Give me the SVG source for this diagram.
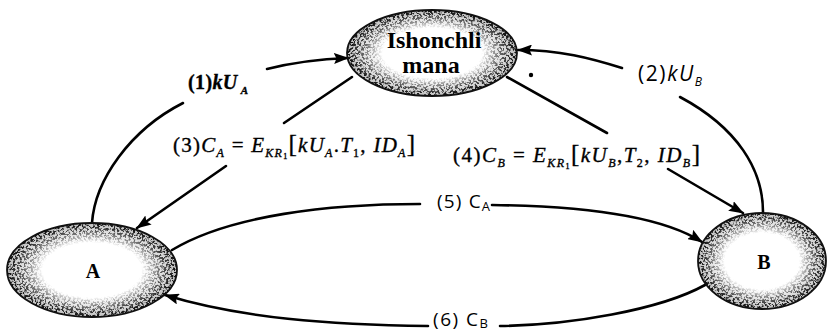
<svg xmlns="http://www.w3.org/2000/svg" width="827" height="332" viewBox="0 0 827 332">
<style>
.edge{fill:none;stroke:#000;stroke-width:2.6;stroke-linecap:round}
.base{fill:#fff;stroke:none}
.tint{fill:url(#tint);stroke:none}
.spk{fill:url(#ring);stroke:none;filter:url(#speckle)}
.rim{fill:none;stroke:#111;stroke-width:1.8}
.nlab{font-family:"Liberation Serif",serif;font-weight:bold;fill:#000;text-anchor:middle}
.ser{font-family:"Liberation Serif","Times New Roman",serif;fill:#000;stroke:#000;stroke-width:0.35}
.sans{font-family:"Open Sans","Noto Sans",sans-serif;fill:#000}
.it{font-style:italic}
</style>
<defs>
<marker id="ah" markerWidth="15" markerHeight="11" refX="14" refY="5.5" orient="auto" markerUnits="userSpaceOnUse">
<path d="M0,0 L15,5.5 L0,11 L2.5,5.5 z" fill="#000"/>
</marker>
<radialGradient id="ring" cx="0.5" cy="0.5" r="0.5">
<stop offset="0.58" stop-color="#000" stop-opacity="0"/>
<stop offset="0.85" stop-color="#000" stop-opacity="0.65"/>
<stop offset="1" stop-color="#000" stop-opacity="0.95"/>
</radialGradient>
<radialGradient id="tint" cx="0.5" cy="0.5" r="0.5">
<stop offset="0.6" stop-color="#999" stop-opacity="0"/>
<stop offset="0.85" stop-color="#999" stop-opacity="0.35"/>
<stop offset="1" stop-color="#777" stop-opacity="0.5"/>
</radialGradient>
<filter id="speckle" x="0" y="0" width="1" height="1" color-interpolation-filters="sRGB">
<feTurbulence type="fractalNoise" baseFrequency="0.45" numOctaves="3" seed="7" result="n"/>
<feColorMatrix in="n" type="matrix" values="0 0 0 0 0  0 0 0 0 0  0 0 0 0 0  7 0 0 0 -3.2" result="m"/>
<feComposite in="SourceGraphic" in2="m" operator="arithmetic" k1="1" k2="0" k3="0" k4="0"/>
</filter>
</defs>

<g id="connectors">
<path class="edge" d="M92,223 C95,180 130,130 183,103"/>
<path class="edge" d="M267,69 C295,62 320,59 348,58" marker-end="url(#ah)"/>
<path class="edge" d="M763,212 C763,170 738,128 680,97"/>
<path class="edge" d="M622,68 C590,58 560,50 518,50" marker-end="url(#ah)"/>
<path class="edge" d="M352,77 L284,123"/>
<path class="edge" d="M226,166 L137,228" marker-end="url(#ah)"/>
<path class="edge" d="M507,77 L607,133"/>
<path class="edge" d="M668,169 L743,213" marker-end="url(#ah)"/>
<path class="edge" d="M172,250 C230,215 330,204 420,204"/>
<path class="edge" d="M492,205 C580,206 660,215 702,242" marker-end="url(#ah)"/>
<path class="edge" d="M705,285 C660,310 570,325 500,326"/>
<path class="edge" d="M428,326 C330,325 240,318 165,295" marker-end="url(#ah)"/>
<circle cx="531" cy="75" r="2.2" fill="#000"/>
</g>

<g id="labels">
<text class="ser" x="188" y="89" font-size="20" font-weight="bold" textLength="60" lengthAdjust="spacing">(1)<tspan class="it">kU</tspan><tspan class="it" font-size="11" dx="3" dy="5">A</tspan></text>
<text class="sans" x="638" y="81" font-size="21" textLength="64" lengthAdjust="spacing">(2)<tspan class="it">kU</tspan><tspan class="it" font-size="12" dy="5">B</tspan></text>
<text class="ser" x="173" y="152" font-size="21" textLength="242" lengthAdjust="spacing">(3)<tspan class="it">C</tspan><tspan class="it" font-size="12" dy="5">A</tspan><tspan dy="-5"> = </tspan><tspan class="it">E</tspan><tspan class="it" font-size="12" dy="5">KR</tspan><tspan font-size="8" dy="2">1</tspan><tspan font-size="25" dy="-7">[</tspan><tspan class="it">kU</tspan><tspan class="it" font-size="12" dy="5">A</tspan><tspan dy="-5">.</tspan><tspan class="it">T</tspan><tspan font-size="12" dy="5">1</tspan><tspan dy="-5">, </tspan><tspan class="it">ID</tspan><tspan class="it" font-size="12" dy="5">A</tspan><tspan font-size="25" dy="-5">]</tspan></text>
<text class="ser" x="453" y="162" font-size="21" textLength="247" lengthAdjust="spacing">(4)<tspan class="it">C</tspan><tspan class="it" font-size="12" dy="5">B</tspan><tspan dy="-5"> = </tspan><tspan class="it">E</tspan><tspan class="it" font-size="12" dy="5">KR</tspan><tspan font-size="8" dy="2">1</tspan><tspan font-size="25" dy="-7">[</tspan><tspan class="it">kU</tspan><tspan class="it" font-size="12" dy="5">B</tspan><tspan dy="-5">,</tspan><tspan class="it">T</tspan><tspan font-size="12" dy="5">2</tspan><tspan dy="-5">, </tspan><tspan class="it">ID</tspan><tspan class="it" font-size="12" dy="5">B</tspan><tspan font-size="25" dy="-5">]</tspan></text>
<text class="sans" x="437" y="208" font-size="19" textLength="53" lengthAdjust="spacing">(5) C<tspan font-size="13" dy="3">A</tspan></text>
<text class="sans" x="433" y="326" font-size="19" textLength="55" lengthAdjust="spacing">(6) C<tspan font-size="13" dy="2">B</tspan></text>
</g>

<g id="node-trusted">
<ellipse class="base" cx="432" cy="53" rx="85" ry="43"/>
<ellipse class="tint" cx="432" cy="53" rx="85" ry="43"/>
<ellipse class="spk" cx="432" cy="53" rx="85" ry="43"/>
<ellipse class="rim" cx="432" cy="53" rx="85" ry="43"/>
<text class="nlab" x="434" y="48" font-size="24">Ishonchli</text>
<text class="nlab" x="431" y="73" font-size="24">mana</text>
</g>

<g id="node-A">
<ellipse class="base" cx="92" cy="270" rx="85" ry="47"/>
<ellipse class="tint" cx="92" cy="270" rx="85" ry="47"/>
<ellipse class="spk" cx="92" cy="270" rx="85" ry="47"/>
<ellipse class="rim" cx="92" cy="270" rx="85" ry="47"/>
<text class="nlab" x="93" y="278" font-size="20">A</text>
</g>

<g id="node-B">
<ellipse class="base" cx="762" cy="261" rx="64" ry="48"/>
<ellipse class="tint" cx="762" cy="261" rx="64" ry="48"/>
<ellipse class="spk" cx="762" cy="261" rx="64" ry="48"/>
<ellipse class="rim" cx="762" cy="261" rx="64" ry="48"/>
<text class="nlab" x="764" y="269" font-size="20">B</text>
</g>
</svg>
